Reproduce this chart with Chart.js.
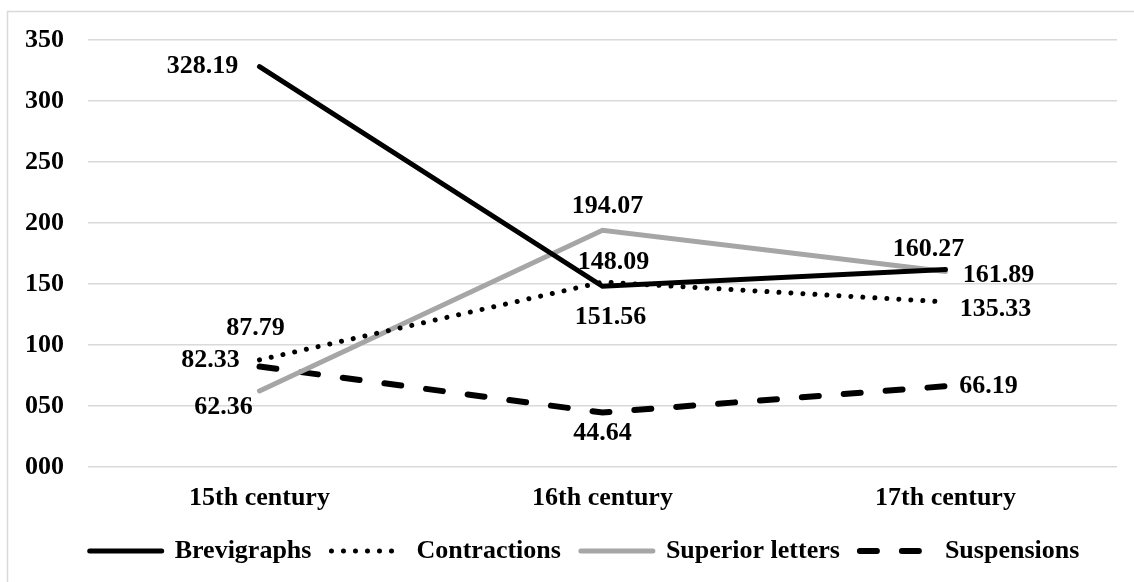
<!DOCTYPE html>
<html lang="en">
<head>
    <meta charset="UTF-8">
    <title>Abbreviation types by century</title>
    <script src="https://cdn.jsdelivr.net/npm/chart.js"></script>
    <style>
        body {
            margin: 0;
            background: #fff;
        }
        .wrap {
            width: 1134px;
            height: 582px;
            position: relative;
        }
    </style>
</head>
<body>

    <div class="wrap">
        <canvas id="chart"></canvas>
    </div>

    <script>
        const centuries = ['15th century', '16th century', '17th century'];
        const seriesNames = ['Brevigraphs', 'Contractions', 'Superior letters', 'Suspensions'];
        const brevigraphs = [328.19, 148.09, 161.89];
        const contractions = [87.79, 151.56, 135.33];
        const superiorLetters = [62.36, 194.07, 160.27];
        const suspensions = [82.33, 44.64, 66.19];
        const yTicks = [0, 50, 100, 150, 200, 250, 300, 350];

        // where each value label sits relative to its point (dx, dy)
        const labelOffsets = [
            [[-57, 0], [11, -24], [53, 6]],
            [[-4, -32], [8, 35], [50, 7]],
            [[-36, 16], [5, -24], [-17, -22]],
            [[-49, -6], [0, 21], [43, 0]]
        ];

        const FONT = '"Liberation Serif", "Times New Roman", serif';

        // light frame round the chart (left and top edges only show)
        const framePlugin = {
            id: 'frame',
            beforeDraw(chart) {
                const ctx = chart.ctx;
                ctx.save();
                ctx.strokeStyle = '#d9d9d9';
                ctx.lineWidth = 1.5;
                ctx.beginPath();
                ctx.moveTo(7.5, 582);
                ctx.lineTo(7.5, 11.5);
                ctx.lineTo(1134, 11.5);
                ctx.stroke();
                ctx.restore();
            },
            afterLayout(chart) {
                // legend sits a bit right of centre in the original
                if (chart.legend) chart.legend.left += 44;
            }
        };

        const valueLabels = {
            id: 'valueLabels',
            afterDatasetsDraw(chart) {
                const ctx = chart.ctx;
                ctx.save();
                ctx.font = 'bold 26px ' + FONT;
                ctx.fillStyle = '#000';
                ctx.textAlign = 'center';
                ctx.textBaseline = 'middle';
                chart.data.datasets.forEach((ds, di) => {
                    const meta = chart.getDatasetMeta(di);
                    meta.data.forEach((pt, i) => {
                        const off = labelOffsets[di][i];
                        ctx.fillText(ds.data[i].toFixed(2), pt.x + off[0], pt.y + off[1]);
                    });
                });
                ctx.restore();
            }
        };

        const ctx = document.getElementById('chart').getContext('2d');
        new Chart(ctx, {
            type: 'line',
            data: {
                labels: centuries,
                datasets: [
                    {
                        label: seriesNames[0],
                        data: brevigraphs,
                        borderColor: '#000000',
                        borderWidth: 5,
                        borderCapStyle: 'round'
                    },
                    {
                        label: seriesNames[1],
                        data: contractions,
                        borderColor: '#000000',
                        borderWidth: 5,
                        borderDash: [0.01, 12],
                        borderCapStyle: 'round'
                    },
                    {
                        label: seriesNames[2],
                        data: superiorLetters,
                        borderColor: '#a6a6a6',
                        borderWidth: 5,
                        borderCapStyle: 'round'
                    },
                    {
                        label: seriesNames[3],
                        data: suspensions,
                        borderColor: '#000000',
                        borderWidth: 6,
                        borderDash: [17, 25],
                        borderCapStyle: 'round'
                    }
                ]
            },
            options: {
                responsive: true,
                maintainAspectRatio: false,
                animation: false,
                layout: {
                    padding: { left: 8, top: 40, right: 17, bottom: 8 }
                },
                elements: {
                    point: { radius: 0 },
                    line: { tension: 0, fill: false }
                },
                plugins: {
                    tooltip: { enabled: false },
                    legend: {
                        position: 'bottom',
                        labels: {
                            usePointStyle: true,
                            pointStyleWidth: 72,
                            padding: 20,
                            color: '#000',
                            font: { family: FONT, size: 26, weight: 'bold' },
                            generateLabels(chart) {
                                return chart.data.datasets.map((ds, i) => ({
                                    text: ds.label,
                                    fillStyle: ds.borderColor,
                                    strokeStyle: ds.borderColor,
                                    lineWidth: ds.borderWidth,
                                    lineDash: ds.borderDash || [],
                                    lineCap: ds.borderCapStyle,
                                    pointStyle: 'line',
                                    fontColor: '#000',
                                    hidden: false,
                                    datasetIndex: i
                                }));
                            }
                        }
                    }
                },
                scales: {
                    x: {
                        offset: true,
                        grid: { display: false, drawTicks: false },
                        border: { display: false },
                        ticks: {
                            color: '#000',
                            padding: 16,
                            font: { family: FONT, size: 26, weight: 'bold' }
                        },
                        afterFit(scale) { scale.height = 51; }
                    },
                    y: {
                        min: yTicks[0],
                        max: yTicks[yTicks.length - 1],
                        afterBuildTicks(scale) {
                            scale.ticks = yTicks.map(v => ({ value: v }));
                        },
                        grid: { color: '#d9d9d9', lineWidth: 1.5, drawTicks: false },
                        border: { display: false },
                        ticks: {
                            color: '#000',
                            padding: 24,
                            font: { family: FONT, size: 26, weight: 'bold' },
                            callback: v => String(v).padStart(3, '0')
                        },
                        afterFit(scale) { scale.width = 80; }
                    }
                }
            },
            plugins: [framePlugin, valueLabels]
        });
    </script>
</body>
</html>
